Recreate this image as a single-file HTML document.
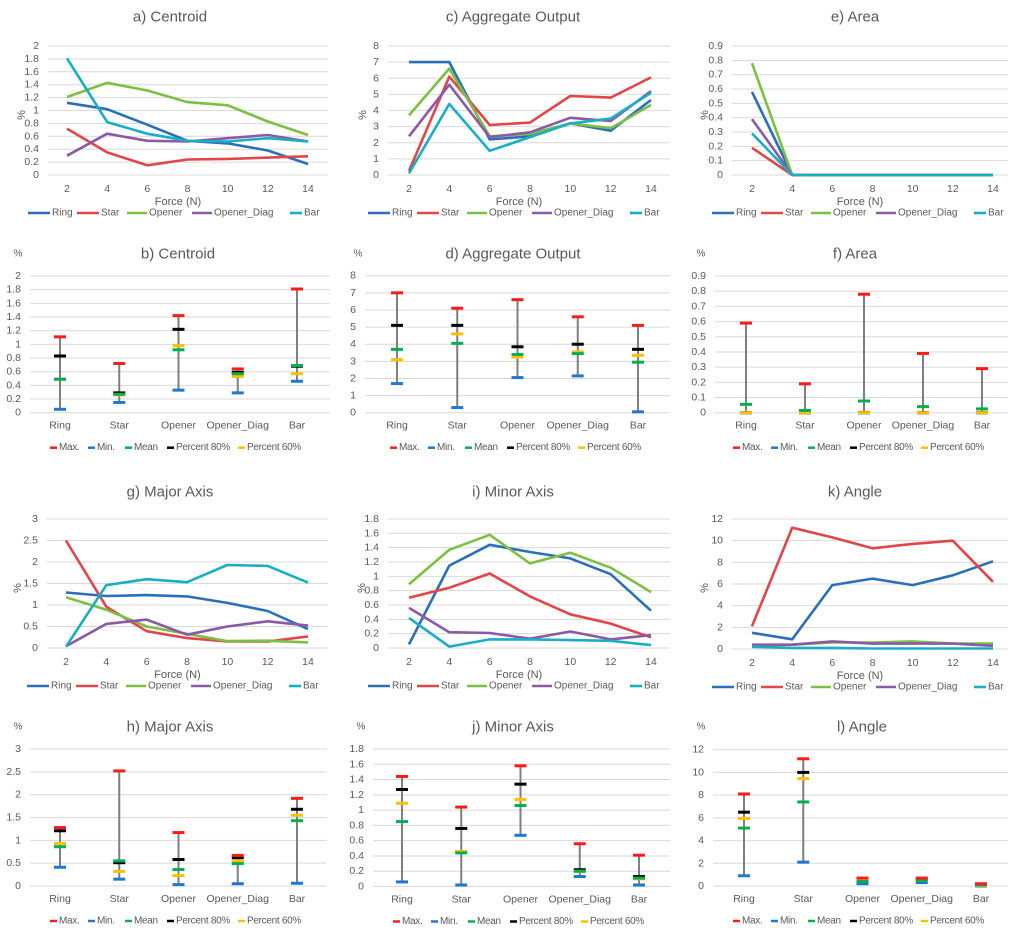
<!DOCTYPE html>
<html><head><meta charset="utf-8"><style>
body{margin:0;background:#fff}
svg{display:block;font-family:"Liberation Sans",sans-serif}
</style></head><body>
<svg id="fig" width="1024" height="935" viewBox="0 0 1024 935"></svg>
<script>
const forces=[2,4,6,8,10,12,14];
const seriesNames=["Ring","Star","Opener","Opener_Diag","Bar"];
const cats=["Ring","Star","Opener","Opener_Diag","Bar"];
const statNames=["Max.","Min.","Mean","Percent 80%","Percent 60%"];
// a) Centroid
const aRing=[1.12,1.02,0.78,0.53,0.49,0.38,0.17];
const aStar=[0.72,0.35,0.15,0.24,0.25,0.27,0.29];
const aOpener=[1.21,1.43,1.31,1.13,1.08,0.83,0.62];
const aDiag=[0.3,0.64,0.53,0.52,0.57,0.62,0.52];
const aBar=[1.81,0.82,0.64,0.53,0.52,0.57,0.52];
// c) Aggregate Output
const cRing=[7,7,2.2,2.4,3.2,2.75,4.65];
const cStar=[0.25,6.1,3.1,3.25,4.9,4.8,6.05];
const cOpener=[3.7,6.6,2.4,2.55,3.2,2.9,4.35];
const cDiag=[2.4,5.6,2.35,2.65,3.55,3.35,5.2];
const cBar=[0.1,4.4,1.5,2.35,3.2,3.5,5.1];
// e) Area
const eRing=[0.58,0,0,0,0,0,0];
const eStar=[0.19,0,0,0,0,0,0];
const eOpener=[0.78,0,0,0,0,0,0];
const eDiag=[0.39,0,0,0,0,0,0];
const eBar=[0.29,0,0,0,0,0,0];
// g) Major Axis
const gRing=[1.29,1.21,1.23,1.2,1.05,0.86,0.44];
const gStar=[2.5,0.96,0.39,0.23,0.15,0.15,0.27];
const gOpener=[1.18,0.89,0.5,0.33,0.16,0.17,0.13];
const gDiag=[0.04,0.56,0.66,0.31,0.5,0.62,0.52];
const gBar=[0.03,1.46,1.6,1.53,1.93,1.91,1.52];
// i) Minor Axis
const iRing=[0.05,1.15,1.44,1.34,1.25,1.03,0.52];
const iStar=[0.7,0.84,1.04,0.72,0.47,0.34,0.15];
const iOpener=[0.89,1.37,1.58,1.18,1.33,1.12,0.78];
const iDiag=[0.56,0.22,0.21,0.13,0.23,0.12,0.18];
const iBar=[0.42,0.02,0.12,0.12,0.11,0.1,0.04];
// k) Angle
const kRing=[1.5,0.9,5.9,6.5,5.9,6.8,8.1];
const kStar=[2.1,11.2,10.3,9.3,9.7,10,6.2];
const kOpener=[0.3,0.4,0.6,0.6,0.7,0.5,0.5];
const kDiag=[0.4,0.4,0.7,0.5,0.5,0.5,0.3];
const kBar=[0.2,0.1,0.1,0.05,0.05,0.05,0.05];
// b) Centroid stats
const bMax=[1.11,0.72,1.42,0.64,1.81], bMin=[0.05,0.15,0.33,0.29,0.46], bMean=[0.49,0.27,0.92,0.57,0.69], bP80=[0.83,0.29,1.22,0.59,0.68], bP60=[0.49,0.26,0.98,0.53,0.57];
// d) Aggregate Output stats
const dMax=[7,6.1,6.6,5.6,5.1], dMin=[1.7,0.3,2.05,2.15,0.05], dMean=[3.7,4.05,3.4,3.45,2.95], dP80=[5.1,5.1,3.85,4,3.7], dP60=[3.1,4.6,3.25,3.55,3.35];
// f) Area stats
const fMax=[0.59,0.19,0.78,0.39,0.29], fMin=[0,0,0,0,0], fMean=[0.055,0.015,0.077,0.04,0.025], fP80=[0,0,0,0,0], fP60=[0,0,0,0,0];
// h) Major Axis stats
const hMax=[1.28,2.52,1.17,0.67,1.92], hMin=[0.41,0.15,0.03,0.05,0.06], hMean=[0.86,0.55,0.36,0.49,1.43], hP80=[1.21,0.51,0.58,0.62,1.68], hP60=[0.93,0.32,0.23,0.55,1.55];
// j) Minor Axis stats
const jMax=[1.44,1.04,1.58,0.56,0.41], jMin=[0.06,0.02,0.67,0.13,0.02], jMean=[0.85,0.44,1.06,0.2,0.11], jP80=[1.27,0.76,1.34,0.22,0.13], jP60=[1.09,0.46,1.14,0.2,0.1];
// l) Angle stats
const lMax=[8.1,11.2,0.7,0.7,0.2], lMin=[0.9,2.1,0.2,0.3,0], lMean=[5.1,7.4,0.4,0.5,0.1], lP80=[6.5,10,0.6,0.6,0.1], lP60=[5.95,9.45,0.5,0.5,0.05];

const svg=document.getElementById('fig');
const NS="http://www.w3.org/2000/svg";
const lineColors=["#2a70b8","#e0464a","#7cbf42","#8b5aa6","#19aec6"];
const statColors=["#ff1a1a","#1f78d0","#00b050","#000000","#ffc000"];
function el(tag,attrs,parent){const e=document.createElementNS(NS,tag);for(const k in attrs)e.setAttribute(k,attrs[k]);(parent||svg).appendChild(e);return e;}
function txt(s,x,y,size,anchor,parent,fill){const t=el('text',{x:x,y:y,'font-size':size,'text-anchor':anchor||'middle',fill:fill||'#595959','dominant-baseline':'central'},parent);t.textContent=s;return t;}

function axes(g,P,ticks,fmt){
  const ys=v=>P.y0-(v/P.max)*(P.y0-P.top);
  ticks.forEach(v=>{
    const l=el('line',{x1:P.gl,x2:P.gr,y1:ys(v),y2:ys(v),stroke:'#d9d9d9','stroke-width':1},g);
    
    
    const t=txt(fmt(v),P.gl-9,ys(v),10.5,'end',g);
    
    
  });
  return ys;
}

function lineChart(id,title,P,data,ticks){
  const g=el('g',{});
  
  
  const tt=txt(title,P.tc,P.ty,15,'middle',g);
  
  
  const ys=axes(g,P,ticks,v=>String(+v.toFixed(2)));
  const xs=f=>P.x2+(f-2)/12*(P.x14-P.x2);
  forces.forEach(f=>{const t=txt(String(f),xs(f),P.y0+14,10.5,'middle',g);
    
    });
  const xt=txt('Force (N)',(P.gl+P.gr)/2-10,P.y0+27,11,'middle',g);
  
  
  const yt=el('text',{x:P.ylx,y:P.yly,'font-size':11,fill:'#595959','text-anchor':'middle','dominant-baseline':'central',transform:`rotate(-90 ${P.ylx} ${P.yly})`},g);
  yt.textContent='%';
  
  
  data.forEach((arr,si)=>{
    const pts=arr.map((v,i)=>xs(forces[i]).toFixed(1)+','+ys(v).toFixed(1)).join(' ');
    const pl=el('polyline',{points:pts,fill:'none',stroke:lineColors[si],'stroke-width':2.6,'stroke-linejoin':'round'},g);
    
    
  });
  const lx=P.gl-20, offs=[0,49,99,164,262], lens=[22,22,20,20,12], ly=P.y0+38;
  seriesNames.forEach((n,si)=>{
    const lg=el('g',{},g);
    
    
    el('line',{x1:lx+offs[si],x2:lx+offs[si]+lens[si],y1:ly,y2:ly,stroke:lineColors[si],'stroke-width':2.6},lg);
    txt(n,lx+offs[si]+lens[si]+2,ly,10,'start',lg);
  });
}

function statChart(id,title,P,stats,ticks){
  const g=el('g',{});
  
  
  const tt=txt(title,P.tc,P.ty,15,'middle',g);
  
  
  const pc=txt('%',P.base+18,P.ty,10,'middle',g);
  
  
  const ys=axes(g,P,ticks,v=>String(+v.toFixed(2)));
  const [mx,mn,me,p8,p6]=stats;
  cats.forEach((c,i)=>{
    const x=P.c1+i*(P.c5-P.c1)/4;
    const w=el('line',{x1:x,x2:x,y1:ys(mn[i]),y2:ys(mx[i]),stroke:'#7f7f7f','stroke-width':2},g);
    
    
    [[mn,1],[p8,3],[p6,4],[me,2],[mx,0]].forEach(([arr,k])=>{
      const m=el('line',{x1:x-6,x2:x+6,y1:ys(arr[i]),y2:ys(arr[i]),stroke:statColors[k],'stroke-width':3},g);
      
      
    });
    const t=txt(c,x,P.y0+13,10.5,'middle',g);
    
    
  });
  const offs=[50,88,125,167,238], ly=P.y0+35;
  statNames.forEach((n,k)=>{
    const lg=el('g',{},g);
    
    
    const x=P.base+offs[k];
    el('line',{x1:x,x2:x+7,y1:ly,y2:ly,stroke:statColors[k],'stroke-width':2.5},lg);
    const t=txt(n,x+9,ly,10,'start',lg);
    t.setAttribute('letter-spacing','-0.3');
  });
}

const rng=(n,s)=>Array.from({length:n+1},(_,i)=>+(i*s).toFixed(2));
lineChart('a','a) Centroid',{gl:48,gr:328,y0:175,top:46,max:2,x2:67,x14:308,tc:170,ty:17,ylx:22,yly:115},[aRing,aStar,aOpener,aDiag,aBar],rng(10,0.2));
lineChart('c','c) Aggregate Output',{gl:388,gr:670,y0:175,top:46,max:8,x2:409,x14:651,tc:513,ty:17,ylx:363,yly:115},[cRing,cStar,cOpener,cDiag,cBar],rng(8,1));
lineChart('e','e) Area',{gl:732,gr:1008,y0:175,top:46,max:0.9,x2:752,x14:993,tc:855,ty:17,ylx:705,yly:115},[eRing,eStar,eOpener,eDiag,eBar],rng(9,0.1));
lineChart('g','g) Major Axis',{gl:47,gr:328,y0:648,top:519,max:3,x2:66,x14:308,tc:170,ty:492,ylx:18,yly:588},[gRing,gStar,gOpener,gDiag,gBar],rng(6,0.5));
lineChart('i','i) Minor Axis',{gl:388,gr:670,y0:648,top:519,max:1.8,x2:409,x14:651,tc:513,ty:492,ylx:362,yly:588},[iRing,iStar,iOpener,iDiag,iBar],rng(9,0.2));
lineChart('k','k) Angle',{gl:732,gr:1008,y0:649,top:519,max:12,x2:752,x14:993,tc:855,ty:492,ylx:705,yly:588},[kRing,kStar,kOpener,kDiag,kBar],rng(6,2));

statChart('b','b) Centroid',{base:0,gl:30,gr:330,y0:412.7,top:276,max:2,c1:60,c5:297,tc:178,ty:254},[bMax,bMin,bMean,bP80,bP60],rng(10,0.2));
statChart('d','d) Aggregate Output',{base:340,gl:365,gr:670,y0:412.7,top:275.7,max:8,c1:397,c5:638,tc:513,ty:254},[dMax,dMin,dMean,dP80,dP60],rng(8,1));
statChart('f','f) Area',{base:683,gl:715,gr:1008,y0:412.7,top:276,max:0.9,c1:746,c5:982,tc:855,ty:254},[fMax,fMin,fMean,fP80,fP60],rng(9,0.1));
statChart('h','h) Major Axis',{base:0,gl:30,gr:327,y0:886,top:749,max:3,c1:60,c5:297,tc:170,ty:727},[hMax,hMin,hMean,hP80,hP60],rng(6,0.5));
statChart('j','j) Minor Axis',{base:343,gl:373,gr:670,y0:886.5,top:749,max:1.8,c1:402,c5:639,tc:513,ty:727},[jMax,jMin,jMean,jP80,jP60],rng(9,0.2));
statChart('l','l) Angle',{base:683,gl:713,gr:1008,y0:886,top:749.7,max:12,c1:744,c5:981,tc:862,ty:727},[lMax,lMin,lMean,lP80,lP60],rng(6,2));
</script>
</body></html>
